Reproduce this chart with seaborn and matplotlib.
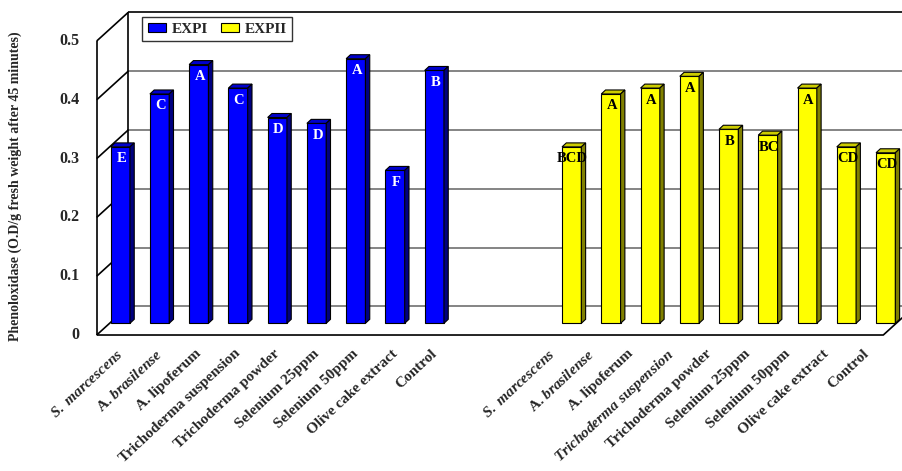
import numpy as np
import pandas as pd
import matplotlib
matplotlib.use("Agg")
import matplotlib.pyplot as plt
import seaborn as sns
from matplotlib.patches import Polygon, Patch

# ---- data -------------------------------------------------------------
treatments = ["S. marcescens", "A. brasilense", "A. lipoferum",
              "Trichoderma suspension", "Trichoderma powder", "Selenium 25ppm",
              "Selenium 50ppm", "Olive cake extract", "Control"]
exp1_values = [0.30, 0.39, 0.44, 0.40, 0.35, 0.34, 0.45, 0.26, 0.43]
exp2_values = [0.30, 0.39, 0.40, 0.42, 0.33, 0.32, 0.40, 0.30, 0.29]
exp1_letters = ["E", "C", "A", "C", "D", "D", "A", "F", "B"]
exp2_letters = ["BCD", "A", "A", "A", "B", "BC", "A", "CD", "CD"]
exp1_ticklabels = [r"$\mathit{S.\ marcescens}$", r"A. $\mathit{brasilense}$",
                   "A. lipoferum", "Trichoderma suspension", "Trichoderma powder",
                   "Selenium 25ppm", "Selenium 50ppm", "Olive cake extract",
                   "Control"]
exp2_ticklabels = [r"$\mathit{S.\ marcescens}$", r"A. $\mathit{brasilense}$",
                   "A. lipoferum", r"$\mathit{Trichoderma\ suspension}$",
                   "Trichoderma powder", "Selenium 25ppm", "Selenium 50ppm",
                   "Olive cake extract", "Control"]
experiments = ["EXPI", "EXPII"]
y_ticks = [0, 0.1, 0.2, 0.3, 0.4, 0.5]
y_label = "Phenoloxidase (O.D/g fresh weight after 45 minutes)"

# ---- style ------------------------------------------------------------
sns.set_theme(style="white")
plt.rcParams["font.family"] = ["Liberation Serif", "DejaVu Serif"]
plt.rcParams["font.weight"] = "bold"
plt.rcParams["mathtext.fontset"] = "custom"
plt.rcParams["mathtext.rm"] = "Liberation Serif:bold"
plt.rcParams["mathtext.it"] = "Liberation Serif:italic:bold"
plt.rcParams["mathtext.bf"] = "Liberation Serif:bold"

colors = {"EXPI": "#0000ff", "EXPII": "#ffff00"}
letter_colors = {"EXPI": "white", "EXPII": "black"}

# ---- layout (pixel geometry of the pseudo-3D frame) --------------------
W, H = 903, 471
X0, SX = 120.3, 39.25        # pixel x of first bar centre, pixels per slot
Y0, SY = 323.3, 588.0        # pixel row of the bar floor, pixels per unit
GROUP_GAP = 3.5              # slot distance between the two bar groups
LABEL_GAP = 3.0              # slot distance between the two label groups
DEPTH_X, DEPTH_Y = 31.6 / SX, 28.7 / SY      # full floor depth
ROW = 0.408                                  # depth at which the bar row sits
BAR_DX, BAR_DY = 4.3 / SX, 4.0 / SY          # depth of each bar
FRONT_LEFT = (96.7 - X0) / SX
FRONT_RIGHT = (883.3 - X0) / SX


def px_x(px):
    return (px - X0) / SX


def px_y(py):
    return (Y0 - py) / SY


n = len(treatments)
positions = list(range(n)) + [n - 1 + GROUP_GAP + i for i in range(n)]
df = pd.DataFrame({
    "pos": positions,
    "value": exp1_values + exp2_values,
    "exp": ["EXPI"] * n + ["EXPII"] * n,
})

fig = plt.figure(figsize=(W / 100, H / 100), dpi=100)
ax = fig.add_axes([0, 0, 1, 1])

sns.barplot(data=df, x="pos", y="value", hue="exp", native_scale=True,
            dodge=False, palette=colors, saturation=1, width=19.3 / SX,
            errorbar=None, edgecolor="black", linewidth=0.8, legend=False,
            ax=ax, zorder=3)

ax.set_xlim(px_x(0), px_x(W))
ax.set_ylim(px_y(H), px_y(0))
ax.set_axis_off()

# front plane and back wall offsets relative to the bar row
fx, fy = -ROW * DEPTH_X, -ROW * DEPTH_Y
bx, by = (1 - ROW) * DEPTH_X, (1 - ROW) * DEPTH_Y
front_left = FRONT_LEFT
back_left = FRONT_LEFT + DEPTH_X
top = max(y_ticks)
line_kw = dict(color="black", lw=1.2, zorder=1, solid_capstyle="butt")

# back wall gridlines and side wall diagonals
for v in y_ticks:
    if v < top:
        ax.plot([back_left, FRONT_RIGHT + DEPTH_X], [v + by, v + by],
                color="#707070", lw=1.2, zorder=0.5)
    ax.plot([front_left, back_left], [v + fy, v + by], **line_kw)
ax.plot([back_left, FRONT_RIGHT + DEPTH_X + 1], [top + by, top + by], **line_kw)
ax.plot([back_left, back_left], [by, top + by], **line_kw)
ax.plot([front_left, front_left], [fy, top + fy], **line_kw)
# floor front edge and right diagonal
ax.plot([front_left, FRONT_RIGHT, FRONT_RIGHT + DEPTH_X],
        [fy, fy, by], **line_kw)

# 3D top and side faces for each bar
for p in list(ax.patches):
    x, w, h = p.get_x(), p.get_width(), p.get_height()
    rgb = np.array(p.get_facecolor()[:3])
    top_face = Polygon([(x, h), (x + BAR_DX, h + BAR_DY),
                        (x + w + BAR_DX, h + BAR_DY), (x + w, h)],
                       closed=True, facecolor=tuple(rgb * 0.8),
                       edgecolor="black", lw=0.8, zorder=3)
    side_face = Polygon([(x + w, 0), (x + w + BAR_DX, BAR_DY),
                         (x + w + BAR_DX, h + BAR_DY), (x + w, h)],
                        closed=True, facecolor=tuple(rgb * 0.5),
                        edgecolor="black", lw=0.8, zorder=3)
    ax.add_patch(top_face)
    ax.add_patch(side_face)

# significance letters inside bars
for exp, vals, letters, offs in [("EXPI", exp1_values, exp1_letters, 0),
                                 ("EXPII", exp2_values, exp2_letters, n - 1 + GROUP_GAP)]:
    for i, (v, letter) in enumerate(zip(vals, letters)):
        ax.text(offs + i + 1 / SX, v - 12 / SY, letter, ha="center", va="center",
                fontsize=10.5, fontweight="bold", color=letter_colors[exp], zorder=5)

# value axis labels on the front edge
for v in y_ticks:
    ax.text(px_x(79.5), v + fy, f"{v:g}", ha="right", va="center",
            fontsize=11.5, fontweight="bold")

# category labels
for offs, labels in [(0, exp1_ticklabels), (n - 1 + LABEL_GAP, exp2_ticklabels)]:
    for i, lab in enumerate(labels):
        ax.text(offs + i - 4 / SX, px_y(347), lab, rotation=43,
                rotation_mode="anchor", ha="right", va="top",
                fontsize=11, fontweight="bold")

fig.text(15.5 / W, 1 - 186 / H, y_label, rotation=90, ha="center",
         va="center", fontsize=10, fontweight="bold")

handles = [Patch(facecolor=colors[e], edgecolor="black", lw=0.8, label=e)
           for e in experiments]
leg = ax.legend(handles=handles, ncol=2, loc="upper left",
                bbox_to_anchor=(142.3 / W, 1 - 17.3 / H), borderaxespad=0,
                frameon=True, fancybox=False, handlelength=1.2,
                handleheight=0.55, handletextpad=0.4, columnspacing=0.8,
                borderpad=0.35, prop={"weight": "bold", "size": 11})
leg.get_frame().set_edgecolor("black")
leg.get_frame().set_linewidth(1.0)
leg.set_zorder(6)

fig.savefig("out.png", dpi=100)
